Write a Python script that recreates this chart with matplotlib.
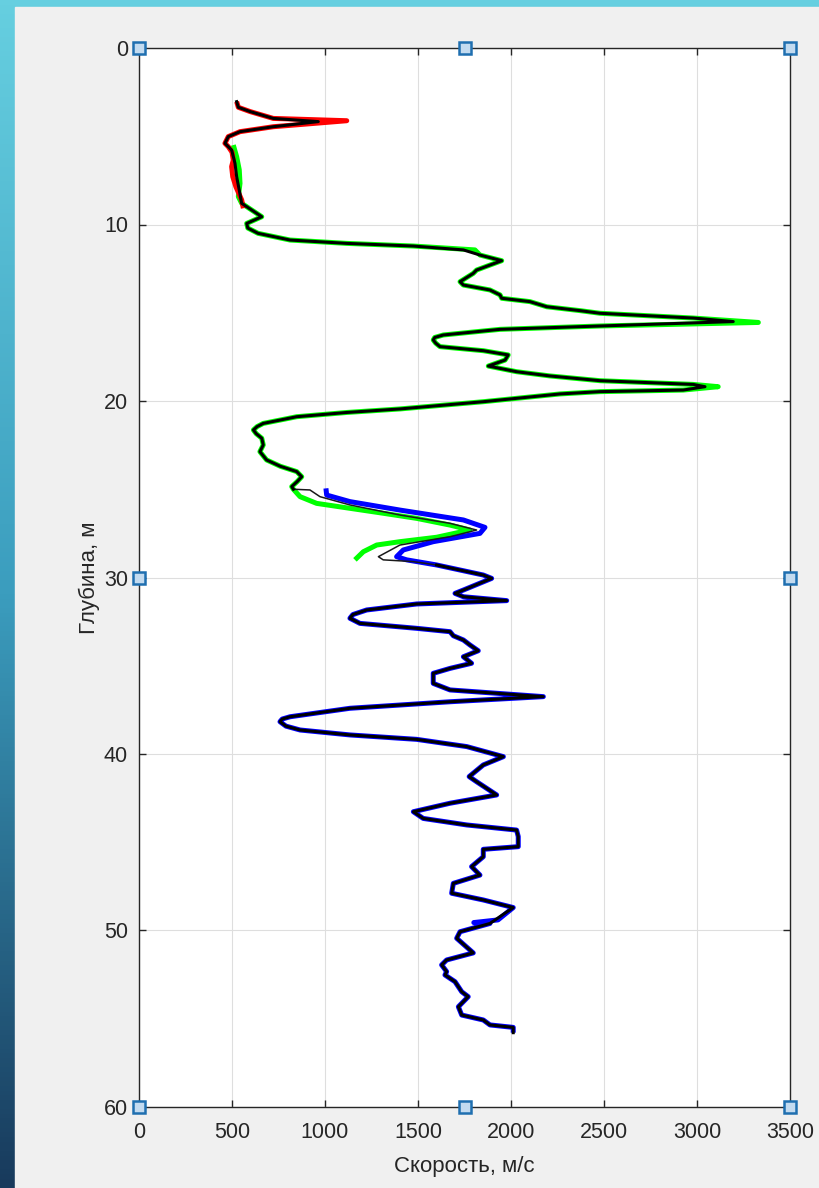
import matplotlib
matplotlib.use("Agg")
import matplotlib.pyplot as plt
import numpy as np
from matplotlib.colors import LinearSegmentedColormap
from matplotlib.patches import Rectangle

plt.rcParams["font.family"] = ["Liberation Sans", "DejaVu Sans"]

# red: upper log, depth (m) / velocity (m/s)
red_d = [3.04, 3.36, 3.6, 3.99, 4.12, 4.46, 4.74, 5.02, 5.4, 5.59,
         5.9, 6.35, 6.72, 7.29, 7.86, 8.61, 9.08]
red_v = [525, 534, 597, 722, 1117, 722, 543, 480, 462, 480,
         500, 507, 498, 504, 521, 552, 561]

# green: middle log
green_d = [5.5, 6.16, 6.9, 7.67, 8.42, 8.8, 8.99, 9.56, 9.94, 10.2,
           10.5, 10.88, 11.07, 11.22, 11.44, 11.73, 12.05, 12.58, 12.77, 13.24,
           13.43, 13.71, 13.99, 14.18, 14.37, 14.66, 14.88, 15.03, 15.3, 15.55,
           15.75, 15.94, 16.26, 16.4, 16.54, 16.72, 16.92, 17.15, 17.39, 17.68,
           18.02, 18.34, 18.58, 18.85, 19.06, 19.19, 19.38, 19.47, 19.6, 20.04,
           20.45, 20.65, 20.89, 21.27, 21.45, 21.64, 21.85, 22.11, 22.49, 22.87,
           23.34, 23.7, 24.0, 24.29, 24.57, 24.85, 25.0, 25.42, 25.8, 26.08,
           26.36, 26.65, 27.03, 27.31, 27.72, 27.97, 28.16, 28.54, 29.0]
green_v = [507, 525, 539, 543, 534, 552, 579, 660, 579, 585,
           640, 812, 1117, 1475, 1806, 1833, 1950, 1815, 1797, 1726,
           1744, 1887, 1941, 1950, 2102, 2192, 2371, 2479, 2980, 3330,
           2479, 1941, 1636, 1590, 1582, 1595, 1618, 1851, 1985, 1968,
           1878, 2030, 2209, 2479, 2980, 3114, 2926, 2479, 2263, 1851,
           1403, 1117, 848, 668, 635, 615, 630, 660, 668, 650,
           686, 760, 848, 875, 850, 821, 830, 866, 955, 1134,
           1313, 1493, 1672, 1779, 1600, 1403, 1278, 1206, 1161]

# blue: lower log
blue_d = [24.95, 25.33, 25.7, 26.18, 26.74, 27.16, 27.5, 27.97, 28.44, 28.82,
          29.0, 29.29, 29.86, 30.05, 30.71, 30.9, 31.09, 31.31, 31.5, 31.84,
          32.1, 32.31, 32.6, 32.88, 33.07, 33.3, 33.54, 33.82, 34.15, 34.49,
          34.86, 35.15, 35.43, 36.0, 36.37, 36.75, 37.04, 37.41, 37.89, 38.02,
          38.17, 38.42, 38.64, 38.92, 39.17, 39.58, 40.15, 40.62, 41.28, 41.57,
          42.32, 42.79, 43.27, 43.65, 44.02, 44.31, 44.68, 45.25, 45.4, 45.82,
          46.38, 46.86, 47.33, 47.89, 48.27, 48.7, 49.4, 49.55, 49.6, 50.07,
          50.44, 51.27, 51.67, 51.95, 52.33, 52.52, 52.9, 53.47, 53.75, 54.32,
          54.79, 55.07, 55.35, 55.49, 55.79]
blue_v = [1005, 1009, 1134, 1403, 1744, 1860, 1833, 1582, 1421, 1385,
          1439, 1600, 1851, 1896, 1744, 1699, 1744, 1977, 1493, 1224,
          1150, 1134, 1188, 1493, 1672, 1690, 1744, 1779, 1824, 1744,
          1788, 1672, 1582, 1582, 1672, 2174, 1672, 1134, 812, 770,
          758, 790, 866, 1134, 1493, 1762, 1959, 1851, 1775, 1815,
          1923, 1672, 1475, 1528, 1762, 2030, 2039, 2039, 1851, 1851,
          1788, 1833, 1690, 1681, 1851, 2012, 1930, 1800, 1887, 1726,
          1708, 1797, 1654, 1627, 1654, 1645, 1699, 1735, 1770, 1717,
          1735, 1851, 1887, 2012, 2012]

# black: merged profile (top part, joint, bottom part)
top_d = [3.04, 3.36, 3.6, 3.99, 4.17, 4.46, 4.74, 5.02, 5.4, 5.59,
         5.78, 6.53, 7.29, 8.05, 8.8, 8.99, 9.56, 9.94, 10.2, 10.5,
         10.88, 11.07, 11.22, 11.44, 11.73, 12.05, 12.58, 12.77, 13.24, 13.43,
         13.71, 13.99, 14.18, 14.37, 14.66, 14.88, 15.03, 15.3, 15.5, 15.75,
         15.94, 16.26, 16.4, 16.54, 16.72, 16.92, 17.15, 17.39, 17.68, 18.02,
         18.34, 18.58, 18.85, 19.06, 19.19, 19.38, 19.47, 19.6, 20.04, 20.45,
         20.65, 20.89, 21.27, 21.45, 21.64, 21.85, 22.11, 22.49, 22.87, 23.34,
         23.7, 24.0, 24.29, 24.57, 24.85, 25.0]
top_v = [525, 534, 597, 722, 964, 722, 543, 480, 462, 480,
         498, 516, 525, 539, 552, 579, 660, 579, 585, 640,
         812, 1117, 1475, 1744, 1833, 1950, 1815, 1797, 1726, 1744,
         1887, 1941, 1950, 2102, 2192, 2371, 2479, 2980, 3195, 2479,
         1941, 1636, 1590, 1582, 1595, 1618, 1851, 1985, 1968, 1878,
         2030, 2209, 2479, 2980, 3043, 2926, 2479, 2263, 1851, 1403,
         1117, 848, 668, 635, 615, 630, 660, 668, 650, 686,
         760, 848, 875, 850, 821, 830]
joint_d = [25.0, 25.04, 25.42, 25.89, 26.46, 26.93, 27.31, 27.69, 28.16, 28.82,
           29.0, 29.1, 29.29]
joint_v = [830, 919, 973, 1134, 1403, 1672, 1815, 1672, 1403, 1287,
           1313, 1475, 1600]
low_d = [29.29, 29.86, 30.05, 30.71, 30.9, 31.09, 31.31, 31.5, 31.84, 32.1,
         32.31, 32.6, 32.88, 33.07, 33.3, 33.54, 33.82, 34.15, 34.49, 34.86,
         35.15, 35.43, 36.0, 36.37, 36.75, 37.04, 37.41, 37.89, 38.02, 38.17,
         38.42, 38.64, 38.92, 39.17, 39.58, 40.15, 40.62, 41.28, 41.57, 42.32,
         42.79, 43.27, 43.65, 44.02, 44.31, 44.68, 45.25, 45.4, 45.82, 46.38,
         46.86, 47.33, 47.89, 48.27, 48.7, 49.6, 50.07, 50.44, 51.27, 51.67,
         51.95, 52.33, 52.52, 52.9, 53.47, 53.75, 54.32, 54.79, 55.07, 55.35,
         55.49, 55.79]
low_v = [1600, 1851, 1896, 1744, 1699, 1744, 1977, 1493, 1224, 1150,
         1134, 1188, 1493, 1672, 1690, 1744, 1779, 1824, 1744, 1788,
         1672, 1582, 1582, 1672, 2174, 1672, 1134, 812, 770, 758,
         790, 866, 1134, 1493, 1762, 1959, 1851, 1775, 1815, 1923,
         1672, 1475, 1528, 1762, 2030, 2039, 2039, 1851, 1851, 1788,
         1833, 1690, 1681, 1851, 2012, 1887, 1726, 1708, 1797, 1654,
         1627, 1654, 1645, 1699, 1735, 1770, 1717, 1735, 1851, 1887,
         2012, 2012]

x_ticks = [0, 500, 1000, 1500, 2000, 2500, 3000, 3500]
y_ticks = [0, 10, 20, 30, 40, 50, 60]

W, H = 820, 1188
fig = plt.figure(figsize=(W / 100, H / 100), dpi=100)

# slide background: gradient strip + grey panel
bg = fig.add_axes([0, 0, 1, 1])
bg.axis("off")
cmap = LinearSegmentedColormap.from_list("bg", ["#66cfe0", "#3b9dbe", "#183a5c"])
bg.imshow(np.linspace(0, 1, 256).reshape(-1, 1), aspect="auto", cmap=cmap,
          extent=[0, 1, 0, 1])
bg.add_patch(Rectangle((15 / W, 0), 1, 1 - 7 / H, color="#f0f0f0"))
bg.set_xlim(0, 1)
bg.set_ylim(0, 1)

ax = fig.add_axes([139 / W, 1 - 1107 / H, 651 / W, 1059 / H])
ax.set_facecolor("white")

ax.plot(green_v, green_d, color="#00ff00", lw=3.6, solid_capstyle="butt")
ax.plot(red_v, red_d, color="#ff0000", lw=3.6, solid_capstyle="butt")
ax.plot(blue_v, blue_d, color="#0000ff", lw=3.6, solid_capstyle="butt")
ax.plot(joint_v, joint_d, color="#1a1a1a", lw=1.1)
ax.plot(top_v, top_d, color="black", lw=2.2)
ax.plot(low_v, low_d, color="black", lw=2.2)

ax.set_xlim(x_ticks[0], x_ticks[-1])
ax.set_ylim(y_ticks[-1], y_ticks[0])
ax.set_xticks(x_ticks)
ax.set_yticks(y_ticks)
ax.grid(True, color="#dedede", lw=0.8)
ax.set_axisbelow(True)
for s in ax.spines.values():
    s.set_color("#262626")
    s.set_linewidth(1.0)
ax.tick_params(direction="in", top=True, right=True, length=5, width=1,
               labelsize=15.5, colors="#262626")
ax.tick_params(axis="x", pad=11)
ax.tick_params(axis="y", pad=8)
ax.set_xlabel("Скорость, м/с", fontsize=16, color="#262626", labelpad=9)
ax.set_ylabel("Глубина, м", fontsize=16, color="#262626", labelpad=3)

# selection handles at corners and edge midpoints
x0, x1 = ax.get_xlim()
y1, y0 = ax.get_ylim()
hx = [x0, x0, x0, x1, x1, x1, (x0 + x1) / 2, (x0 + x1) / 2]
hy = [y0, (y0 + y1) / 2, y1, y0, (y0 + y1) / 2, y1, y0, y1]
ax.plot(hx, hy, ls="none", marker="s", ms=8, mfc="#c3dbf0", mec="#1f6fb0",
        mew=1.8, clip_on=False, zorder=10)

fig.savefig("out.png", dpi=100)
